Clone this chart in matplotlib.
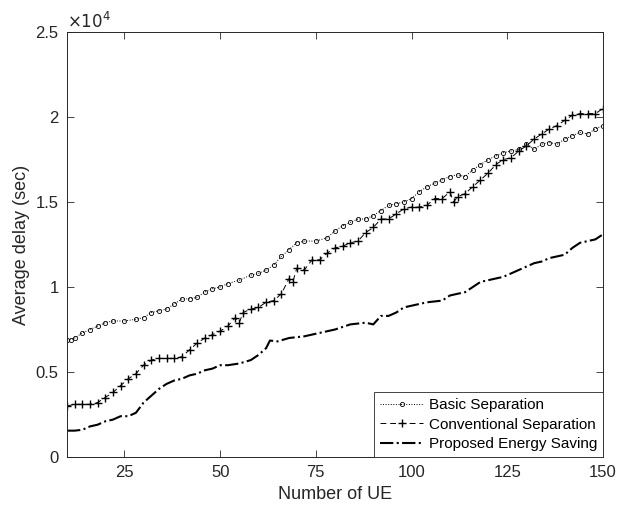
import numpy as np
import matplotlib.pyplot as plt

plt.rcParams['font.family'] = ['Liberation Sans', 'DejaVu Sans']

# Data (delay in seconds)
ue_basic = [10, 11, 12, 14, 16, 18, 20, 22, 25, 28, 30, 32, 34, 36, 38, 40, 42, 44, 46, 48,
            50, 52, 55, 58, 60, 62, 64, 66, 68, 70, 72, 75, 78, 80, 82, 84, 86, 88, 90, 92,
            94, 96, 98, 100, 102, 104, 106, 108, 110, 112, 114, 116, 118, 120, 122, 124, 126,
            128, 130, 132, 134, 136, 138, 140, 142, 144, 146, 148, 150]
delay_basic = [6900, 6900, 7000, 7300, 7500, 7700, 7900, 8000, 8000, 8100, 8200, 8500, 8600,
               8700, 9000, 9300, 9300, 9400, 9700, 9900, 10000, 10200, 10400, 10700, 10800,
               11000, 11300, 11800, 12200, 12600, 12700, 12700, 12900, 13300, 13600, 13800,
               14000, 14000, 14200, 14500, 14800, 14900, 15000, 15200, 15600, 15900, 16100,
               16300, 16500, 16600, 16500, 16900, 17200, 17500, 17700, 17900, 18000, 18100,
               18400, 18100, 18400, 18500, 18400, 18700, 18900, 19100, 19000, 19300, 19500]

ue_conv = [10, 12, 14, 16, 18, 20, 22, 24, 26, 28, 30, 32, 34, 36, 38, 40, 42, 44, 46, 48,
           50, 52, 54, 55, 56, 58, 60, 62, 64, 66, 68, 69, 70, 72, 74, 76, 78, 80, 82, 84,
           86, 88, 90, 92, 94, 96, 98, 100, 102, 104, 106, 108, 110, 111, 112, 114, 116, 118,
           120, 122, 124, 126, 128, 130, 132, 134, 136, 138, 140, 142, 144, 146, 148, 150]
delay_conv = [3000, 3100, 3100, 3100, 3200, 3500, 3800, 4200, 4600, 4900, 5400, 5700, 5800,
              5800, 5800, 5900, 6300, 6700, 7000, 7200, 7400, 7700, 8200, 7900, 8500, 8700,
              8800, 9100, 9200, 9600, 10500, 10300, 11100, 11000, 11600, 11600, 12000, 12300,
              12400, 12600, 12700, 13200, 13500, 14000, 14000, 14300, 14600, 14700, 14700,
              14800, 15200, 15200, 15600, 15000, 15300, 15500, 15900, 16300, 16700, 17200,
              17500, 17600, 18000, 18300, 18700, 19000, 19300, 19500, 19800, 20100, 20200,
              20200, 20200, 20500]

ue_prop = [10, 12, 14, 16, 18, 20, 22, 24, 26, 28, 30, 32, 34, 36, 38, 40, 42, 44, 46, 48,
           50, 52, 55, 58, 60, 62, 63, 65, 68, 72, 76, 80, 84, 88, 90, 92, 94, 96, 98, 100,
           104, 108, 110, 114, 116, 118, 120, 124, 126, 128, 130, 132, 134, 136, 138, 140,
           142, 144, 146, 148, 150]
delay_prop = [1550, 1550, 1600, 1800, 1900, 2100, 2200, 2400, 2400, 2600, 3200, 3600, 4000,
              4300, 4500, 4600, 4800, 4900, 5100, 5200, 5400, 5400, 5500, 5700, 6000, 6400,
              6850, 6800, 7000, 7100, 7300, 7500, 7800, 7900, 7800, 8300, 8300, 8500, 8800,
              8900, 9100, 9200, 9500, 9700, 10000, 10300, 10400, 10600, 10800, 11000, 11200,
              11400, 11500, 11700, 11800, 11900, 12300, 12600, 12700, 12800, 13100]

fig = plt.figure(figsize=(6.17, 5.09), dpi=100)
ax = fig.add_axes([67 / 617, 1 - 457 / 509, 536 / 617, 425 / 509])

scale = 1e4
ax.plot(ue_basic, np.array(delay_basic) / scale, linestyle=':', color='black', linewidth=0.7,
        marker='o', markersize=3.0, markerfacecolor='none', markeredgewidth=0.6,
        label='Basic Separation')
ax.plot(ue_conv, np.array(delay_conv) / scale, linestyle=(0, (6, 4)), color='black', linewidth=0.7,
        marker='+', markersize=6, markeredgewidth=1.0, label='Conventional Separation')
ax.plot(ue_prop, np.array(delay_prop) / scale, linestyle='-.', color='black', linewidth=1.5,
        label='Proposed Energy Saving')

ax.set_xlim(10, 150)
ax.set_ylim(0, 2.5)
ax.set_xticks([25, 50, 75, 100, 125, 150])
ax.set_yticks([0, 0.5, 1, 1.5, 2, 2.5])
ax.set_yticklabels(['0', '0.5', '1', '1.5', '2', '2.5'])
ax.tick_params(direction='in', top=True, right=True, labelsize=12, colors='#262626',
               length=5, width=0.6, pad=6)
for s in ax.spines.values():
    s.set_color('#262626')
    s.set_linewidth(0.7)

ax.set_xlabel('Number of UE', fontsize=13, color='#262626')
ax.set_ylabel('Average delay (sec)', fontsize=13, color='#262626')
ax.text(0.0, 1.003, r'$\times10^4$', transform=ax.transAxes, fontsize=12,
        color='#262626', va='bottom', ha='left')

leg = ax.legend(loc='lower right', fontsize=11, fancybox=False, framealpha=1,
                edgecolor='#262626', borderaxespad=0, handlelength=2.8,
                handletextpad=0.35, borderpad=0.4, labelspacing=0.35)
leg.get_frame().set_linewidth(0.6)

fig.savefig('out.png', dpi=100)
